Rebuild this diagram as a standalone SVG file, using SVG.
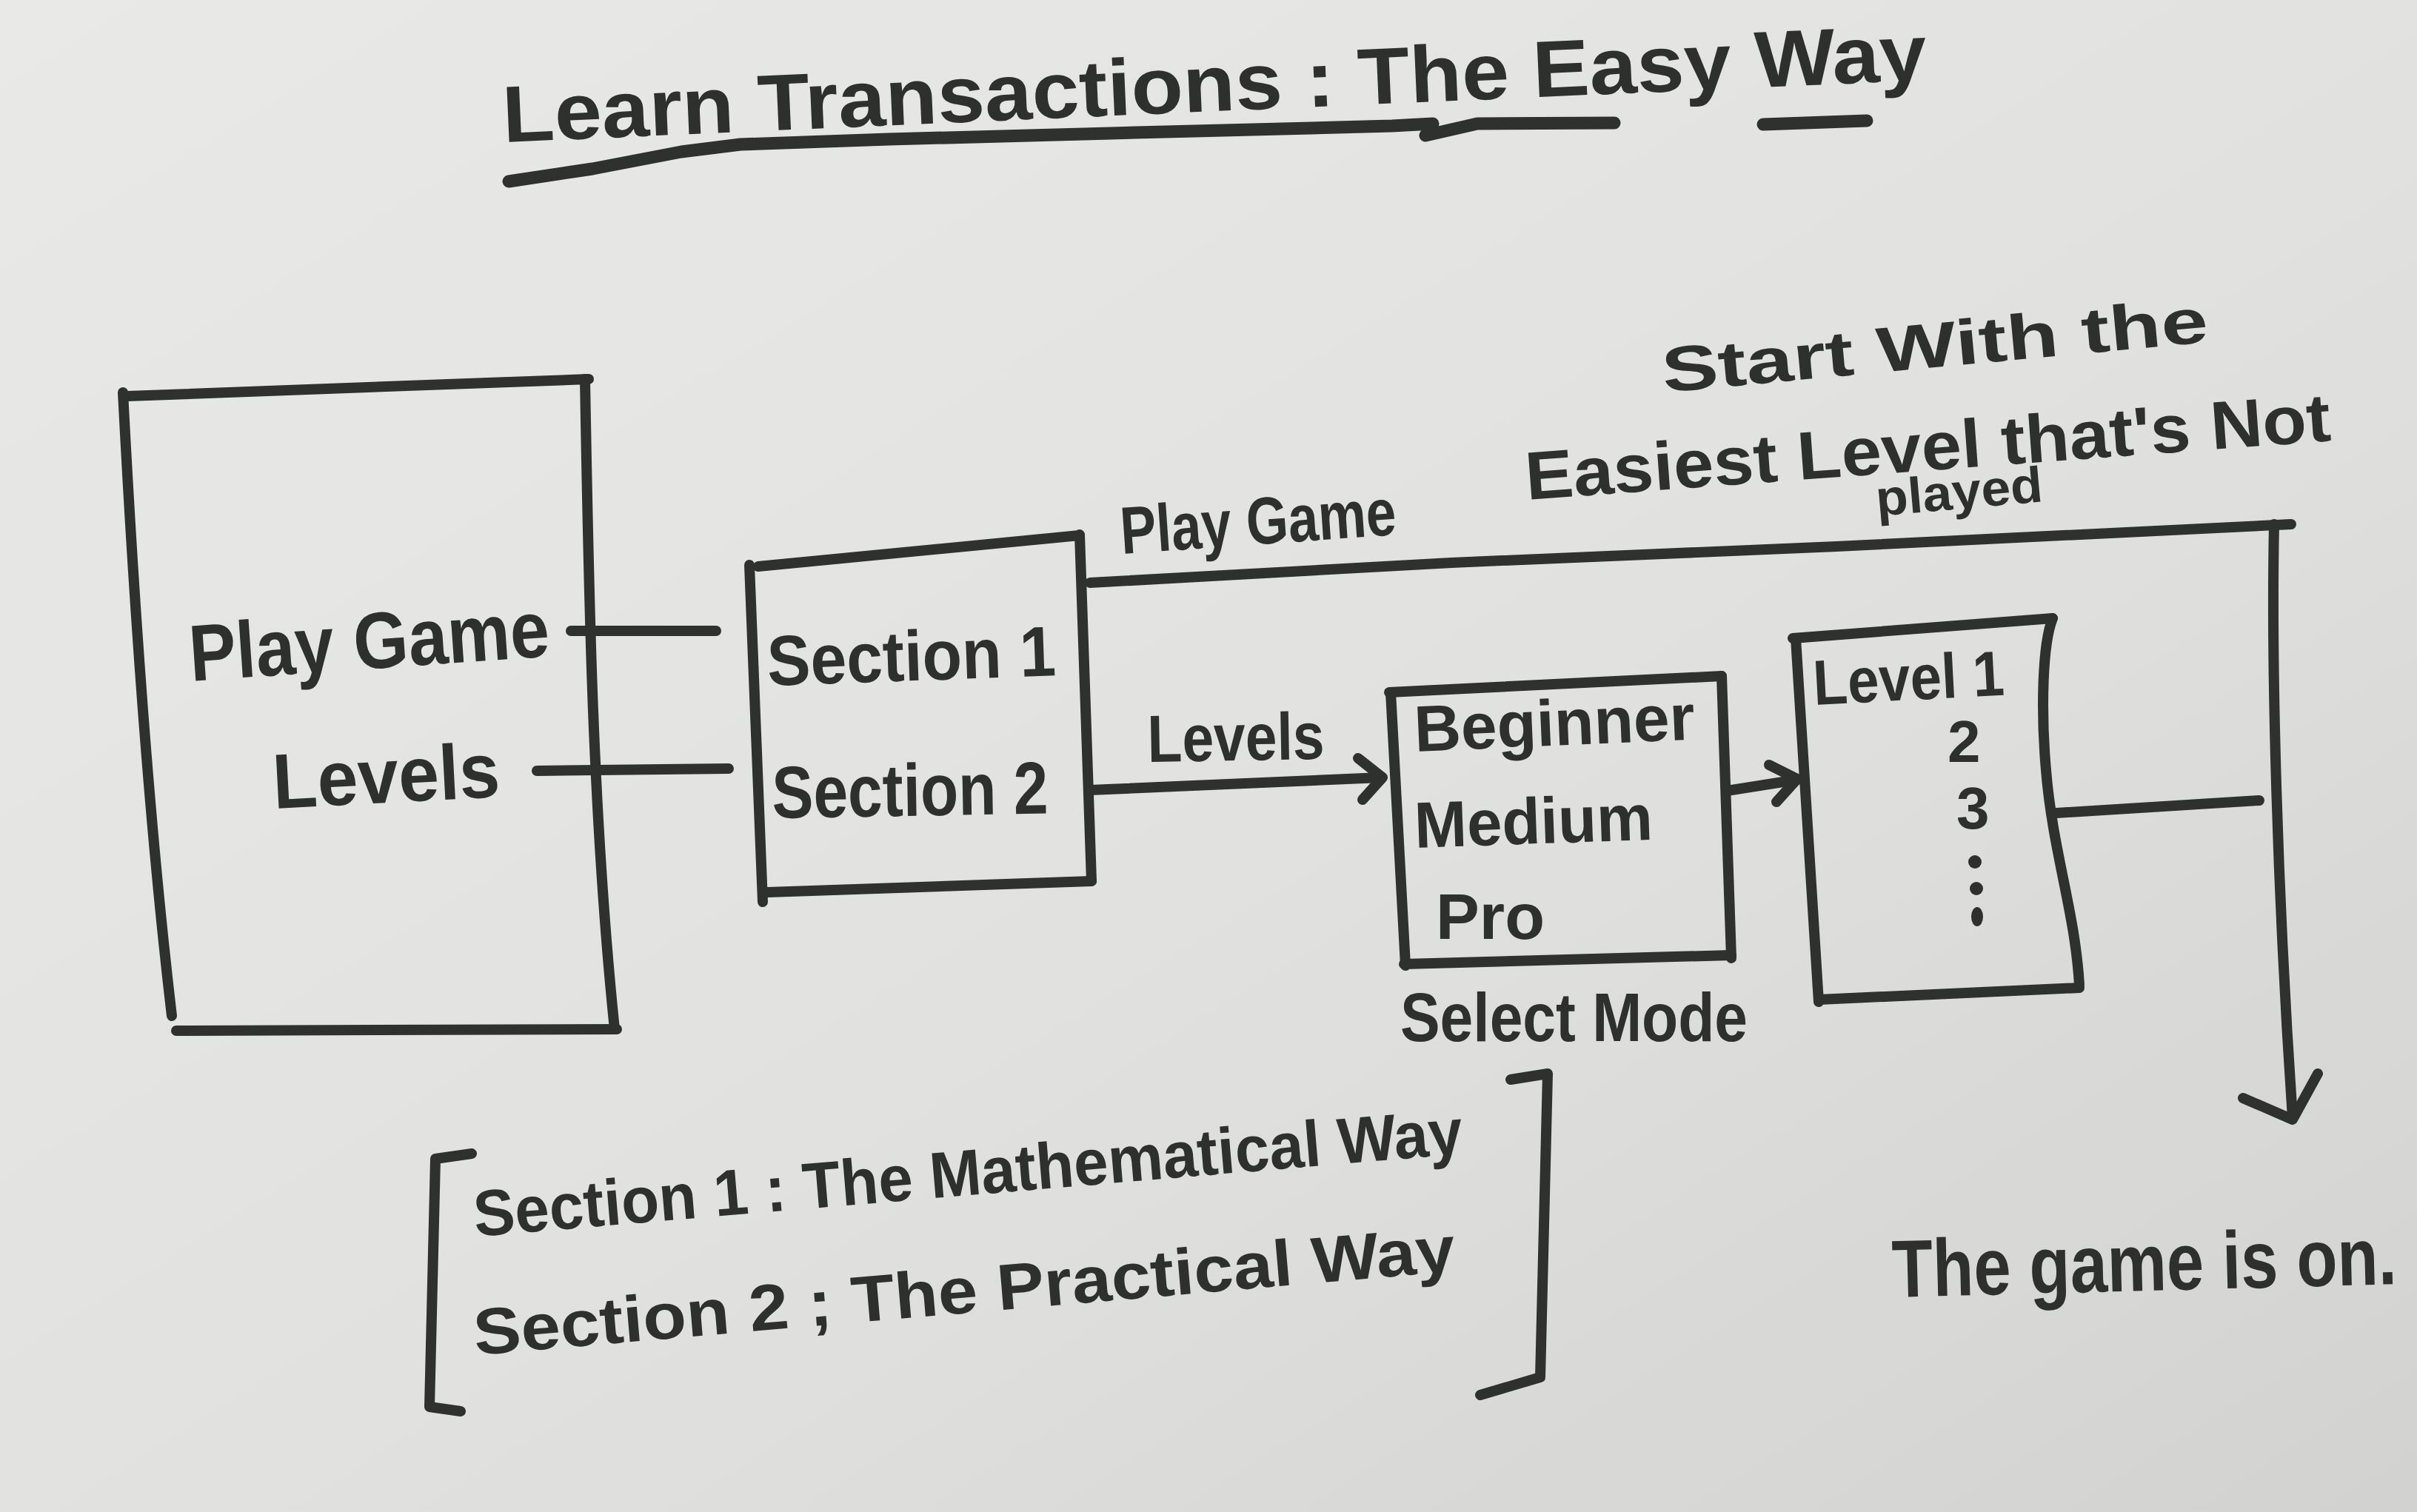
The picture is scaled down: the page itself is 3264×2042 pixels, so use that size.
<svg xmlns="http://www.w3.org/2000/svg" width="3264" height="2042" viewBox="0 0 3264 2042">
<defs>
<linearGradient id="bg" x1="0" y1="0" x2="1" y2="1">
<stop offset="0" stop-color="#e9eae8"/>
<stop offset="0.55" stop-color="#e1e2e0"/>
<stop offset="1" stop-color="#d2d3d1"/>
</linearGradient>
<style>
.ink{fill:none;stroke:#2f312e;stroke-width:14;stroke-linecap:round;stroke-linejoin:round}
.thick{stroke-width:17}
.t{font-family:"Liberation Sans","DejaVu Sans",sans-serif;font-weight:bold;fill:#2d302c}
</style>
</defs>
<rect width="3264" height="2042" fill="url(#bg)"/>

<g id="title">
<text class="t" x="680" y="192" font-size="108" textLength="1925" lengthAdjust="spacingAndGlyphs" transform="rotate(-2.5 680 192)">Learn Transactions : The Easy Way</text>
<path class="ink thick" d="M687,245 L800,228 L920,205 L1000,195 L1200,188 L1500,180 L1880,170 L1935,167 L1925,183 L1995,167 L2180,166"/>
<path class="ink thick" d="M2381,168 L2521,163"/>
</g>

<g id="node-play-game-levels">
<path class="ink" d="M172,535 L795,512"/>
<path class="ink" d="M790,512 C795,800 800,1100 830,1390"/>
<path class="ink" d="M166,530 C180,800 200,1100 232,1372"/>
<path class="ink" d="M238,1392 L833,1390"/>
<text class="t" x="258" y="920" font-size="108" textLength="487" lengthAdjust="spacingAndGlyphs" transform="rotate(-4 258 920)">Play Game</text>
<text class="t" x="370" y="1092" font-size="105" textLength="307" lengthAdjust="spacingAndGlyphs" transform="rotate(-3 370 1092)">Levels</text>
</g>

<g id="node-sections">
<path class="ink" d="M1024,765 L1458,723"/>
<path class="ink" d="M1458,722 L1474,1190"/>
<path class="ink" d="M1012,763 L1030,1218"/>
<path class="ink" d="M1037,1205 L1474,1190"/>
<text class="t" x="1037" y="926" font-size="96" textLength="390" lengthAdjust="spacingAndGlyphs" transform="rotate(-2 1037 926)">Section 1</text>
<text class="t" x="1043" y="1105" font-size="100" textLength="373" lengthAdjust="spacingAndGlyphs" transform="rotate(-1 1043 1105)">Section 2</text>
</g>

<g id="node-modes">
<path class="ink" d="M1876,935 L2325,913"/>
<path class="ink" d="M1878,935 L1898,1304"/>
<path class="ink" d="M2325,913 L2338,1294"/>
<path class="ink" d="M1896,1302 L2338,1290"/>
<text class="t" x="1911" y="1015" font-size="88" textLength="379" lengthAdjust="spacingAndGlyphs" transform="rotate(-2.5 1911 1015)">Beginner</text>
<text class="t" x="1911" y="1145" font-size="88" textLength="322" lengthAdjust="spacingAndGlyphs" transform="rotate(-2 1911 1145)">Medium</text>
<text class="t" x="1939" y="1268" font-size="88" textLength="147" lengthAdjust="spacingAndGlyphs">Pro</text>
<text class="t" x="1891" y="1406" font-size="92" textLength="469" lengthAdjust="spacingAndGlyphs">Select Mode</text>
</g>

<g id="node-level-list">
<path class="ink" d="M2421,862 L2772,835"/>
<path class="ink" d="M2425,862 L2456,1353"/>
<path class="ink" d="M2772,835 C2758,870 2756,960 2763,1040 C2772,1150 2802,1230 2808,1330"/>
<path class="ink" d="M2456,1350 L2808,1334"/>
<text class="t" x="2450" y="952" font-size="86" textLength="258" lengthAdjust="spacingAndGlyphs" transform="rotate(-3 2450 952)">Level 1</text>
<text class="t" x="2630" y="1029" font-size="80">2</text>
<text class="t" x="2642" y="1119" font-size="80">3</text>
<circle cx="2667" cy="1164" r="9" fill="#2d302c"/>
<circle cx="2669" cy="1200" r="9" fill="#2d302c"/>
<ellipse cx="2670" cy="1238" rx="8" ry="13" fill="#2d302c"/>
</g>

<g id="note-start">
<text class="t" x="2247" y="530" font-size="86" textLength="740" lengthAdjust="spacingAndGlyphs" transform="rotate(-5.3 2247 530)">Start With the</text>
<text class="t" x="2062" y="675" font-size="92" textLength="1090" lengthAdjust="spacingAndGlyphs" transform="rotate(-4.2 2062 675)">Easiest Level that's Not</text>
<text class="t" x="2535" y="697" font-size="68" textLength="226" lengthAdjust="spacingAndGlyphs" transform="rotate(-5 2535 697)">played</text>
</g>

<g id="node-end">
<text class="t" x="0" y="0" font-size="110" transform="translate(2556 1752) rotate(-1.5) scale(0.82 1)">The game is on.</text>
</g>

<g id="note-sections-legend">
<path class="ink" d="M637,1558 L588,1565 L580,1900 L622,1906"/>
<path class="ink" d="M2040,1458 L2090,1450 L2080,1860 L1999,1884"/>
<text class="t" x="642" y="1670" font-size="88" textLength="1340" lengthAdjust="spacingAndGlyphs" transform="rotate(-4.8 642 1670)">Section 1 : The Mathematical Way</text>
<text class="t" x="642" y="1830" font-size="88" textLength="1330" lengthAdjust="spacingAndGlyphs" transform="rotate(-4.9 642 1830)">Section 2 ; The Practical Way</text>
</g>

<g id="connectors">
<path class="ink" d="M771,852 L967,852"/>
<path class="ink" d="M725,1041 L984,1038"/>
<path class="ink" d="M1472,787 L1960,760 L2480,738 L3094,708"/>
<path class="ink" d="M3071,708 C3067,900 3075,1200 3096,1510"/>
<path class="ink" d="M3029,1483 L3096,1512 L3130,1450"/>
<text class="t" x="1515" y="748" font-size="90" textLength="373" lengthAdjust="spacingAndGlyphs" transform="rotate(-4 1515 748)">Play Game</text>
<path class="ink" d="M1472,1067 L1866,1050"/>
<path class="ink" d="M1834,1024 L1867,1050 L1840,1080"/>
<text class="t" x="1550" y="1029" font-size="90" textLength="239" lengthAdjust="spacingAndGlyphs" transform="rotate(-1 1550 1029)">Levels</text>
<path class="ink" d="M2332,1068 L2427,1053"/>
<path class="ink" d="M2389,1033 L2427,1052 L2399,1083"/>
<path class="ink" d="M2777,1098 L3051,1081"/>
</g>
</svg>
